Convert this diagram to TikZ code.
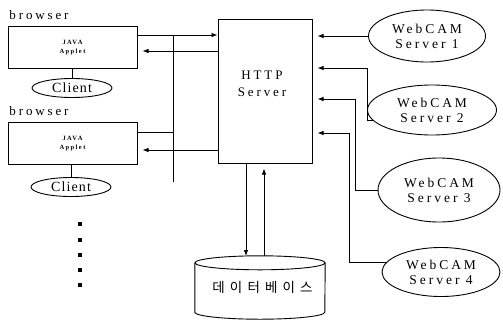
\documentclass[tikz,border=0pt]{standalone}
\usepackage{fontspec}
\setmainfont{Liberation Serif}
\newfontfamily\wide[LetterSpace=22]{Liberation Serif}
\newfontfamily\narrow[LetterSpace=8]{Liberation Serif}
\newfontfamily\krfont[LetterSpace=38]{Noto Sans CJK KR}
\usetikzlibrary{arrows.meta,calc,shapes.geometric}

\tikzset{
  wire/.style={line width=0.8pt, draw=black},
  arr/.style={wire, -{Latex[length=6pt,width=4.5pt]}},
  browserbox/.style={draw, line width=1pt, rectangle, minimum width=129pt, minimum height=42pt,
    align=center, font=\wide\bfseries\fontsize{6.5}{9}\selectfont},
  clientell/.style={draw, line width=0.9pt, ellipse, minimum width=80pt, minimum height=19pt,
    inner sep=0pt, font=\narrow\fontsize{14}{14}\selectfont},
  camell/.style={draw, line width=0.9pt, ellipse, inner sep=0pt, align=center,
    font=\wide\fontsize{13.5}{15}\selectfont},
  lbl/.style={font=\wide\fontsize{13}{13}\selectfont, inner sep=0pt},
  dot/.style={fill=black, minimum size=3.6pt, inner sep=0pt, rectangle}
}

\begin{document}
\begin{tikzpicture}[x=1pt, y=-1pt]
\useasboundingbox (0,0) rectangle (503,322);

% browsers with their applets and clients
\node[browserbox] (b1) at (72.5,47.5) {JAVA\\Applet};
\node[lbl] (lb1) at (39,15) {browser};
\node[clientell] (c1) at (72,88) {Client};
\draw[wire] (b1.south -| c1.north) -- (c1.north);

\node[browserbox] (b2) at (72.5,143.5) {JAVA\\Applet};
\node[lbl] (lb2) at (39,111) {browser};
\node[clientell] (c2) at (71,187) {Client};
\draw[wire] (b2.south -| c2.north) -- (c2.north);

% further clients
\foreach \i/\yy in {1/224,2/240,3/255,4/270,5/285}
  \node[dot] (d\i) at (80,\yy) {};

% HTTP server
\node[draw, line width=1pt, minimum width=94pt, minimum height=144pt] (http) at (265,91) {};
\node[font=\wide\fontsize{13}{17}\selectfont, align=center] (httptxt) at (262,84) {HTTP\\Server};

% request bus from the browsers
\coordinate (busTop) at (173,35);
\coordinate (busB2) at (173,132);
\coordinate (busBot) at (173,182);
\draw[arr] (b1.east |- busTop) -- (http.west |- busTop);
\draw[wire] (busTop) -- (busBot);
\draw[wire] (b2.east |- busB2) -- (busB2);

% replies to the browsers
\coordinate (ret1) at (0,51);
\coordinate (ret2) at (0,150);
\draw[arr, shorten >=5pt] (http.west |- ret1) -- (b1.east |- ret1);
\draw[arr, shorten >=5pt] (http.west |- ret2) -- (b2.east |- ret2);

% WebCAM servers
\node[camell, minimum width=117pt, minimum height=52pt] (e1) at (427,36) {WebCAM\\Server 1};
\node[camell, minimum width=129pt, minimum height=50pt] (e2) at (432,110) {WebCAM\\Server 2};
\node[camell, minimum width=122pt, minimum height=64pt] (e3) at (439,190) {WebCAM\\Server 3};
\node[camell, minimum width=118pt, minimum height=49pt] (e4) at (441,272) {WebCAM\\Server 4};

\coordinate (in2) at (0,68);
\coordinate (v3) at (355,99);
\coordinate (v4) at (349,133);
\draw[arr, shorten >=5pt] (e1.west) -- (http.east |- e1.west);
\draw[arr, shorten >=5pt] (e2.190) -- ++(-5,0) |- (http.east |- in2);
\draw[arr, shorten >=5pt] (e3.west) -| (v3) -- (http.east |- v3);
\draw[arr, shorten >=5pt] (e4.170) -| (v4) -- (http.east |- v4);

% database
\node[minimum width=130pt, minimum height=49pt, inner sep=0pt, font=\krfont\fontsize{13.5}{14}\selectfont] (db) at (260,287.5) {\hspace{5pt}데이터베이스};
\draw[line width=0.9pt] (db.north west) -- (db.south west)
  arc[start angle=180, end angle=360, x radius=65pt, y radius=7pt] -- (db.north east);
\draw[line width=0.9pt] (db.north) ellipse [x radius=65pt, y radius=7pt];

% queries down to the database and results back up
\coordinate (dbtop) at ([yshift=6.8pt]db.north);
\coordinate (qx) at (246,0);
\coordinate (rx) at (264,0);
\draw[arr] (http.south -| qx) -- (qx |- dbtop);
\draw[arr, shorten >=5pt] (rx |- dbtop) -- (http.south -| rx);
\end{tikzpicture}
\end{document}
